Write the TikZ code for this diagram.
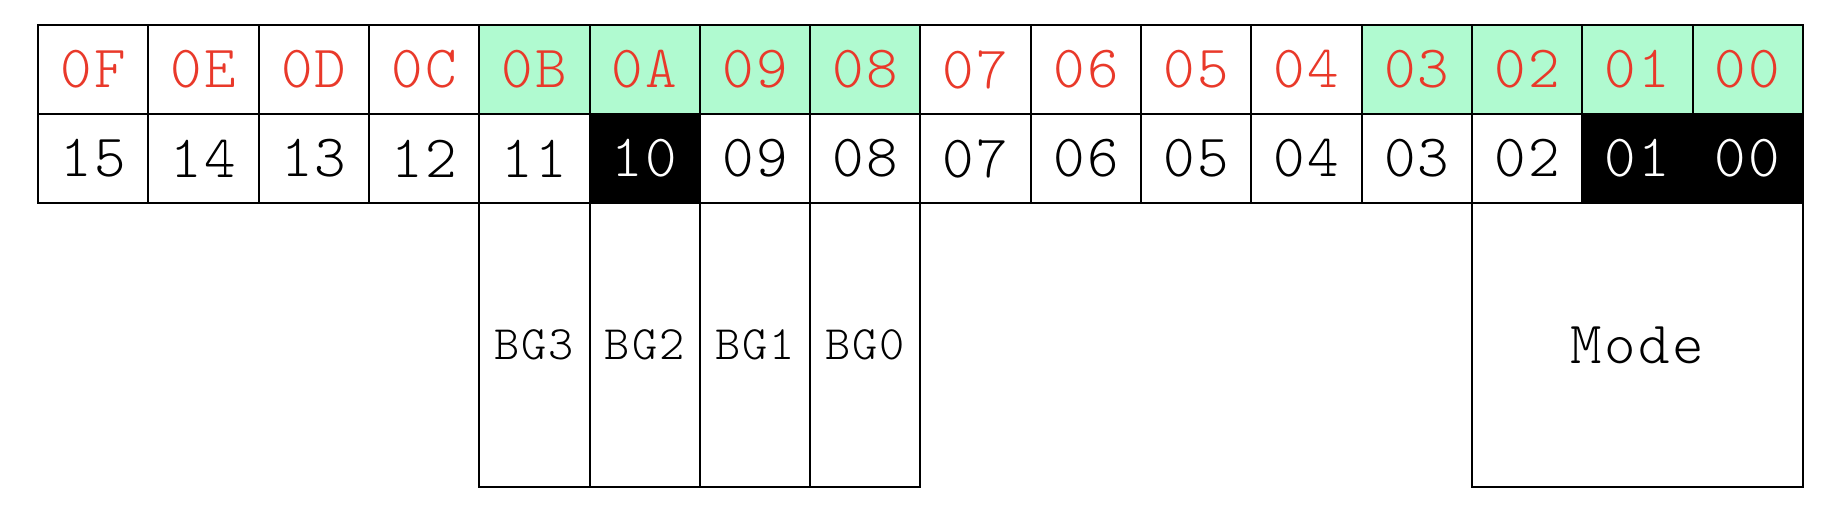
\documentclass[tikz,border=0pt]{standalone}
\usepackage{fontspec}
\newfontfamily\lightmono[LetterSpace=4.0]{Latin Modern Mono Light}
\definecolor{hexred}{RGB}{233,57,42}
\definecolor{mint}{RGB}{176,250,208}
\begin{document}
\begin{tikzpicture}[x=1pt,y=-1pt,
  cell/.style={draw=black,line width=2pt,minimum width=110.3pt,minimum height=89pt,
    inner sep=0pt,anchor=north west,font=\lightmono\fontsize{60}{66}\selectfont},
  hexcell/.style={cell,text=hexred},
  fieldbox/.style={draw=black,line width=2pt,minimum width=110.3pt,minimum height=284pt,
    inner sep=0pt,anchor=north west,font=\lightmono\fontsize{48}{54}\selectfont},
  modebox/.style={fieldbox,minimum width=330.9pt,font=\lightmono\fontsize{60}{66}\selectfont}]
\useasboundingbox (0,0) rectangle (1834,510);
\foreach \t/\f [count=\i from 0] in {0F/white,0E/white,0D/white,0C/white,0B/mint,0A/mint,09/mint,08/mint,07/white,06/white,05/white,04/white,03/mint,02/mint,01/mint,00/mint}
  \node[hexcell,fill=\f] (h\i) at ({37+\i*110.3},24) {\t};
\foreach \t/\f/\c [count=\i from 0] in {15/white/black,14/white/black,13/white/black,12/white/black,11/white/black,10/black/white,09/white/black,08/white/black,07/white/black,06/white/black,05/white/black,04/white/black,03/white/black,02/white/black,01/black/white,00/black/white}
  \node[cell,fill=\f,text=\c] (b\i) at ({37+\i*110.3},113) {\t};
\foreach \t [count=\i from 4] in {BG3,BG2,BG1,BG0}
  \node[fieldbox] (f\t) at ({37+\i*110.3},202) {\t};
\node[modebox] (mode) at ({37+13*110.3},202) {Mode};
\end{tikzpicture}
\end{document}
